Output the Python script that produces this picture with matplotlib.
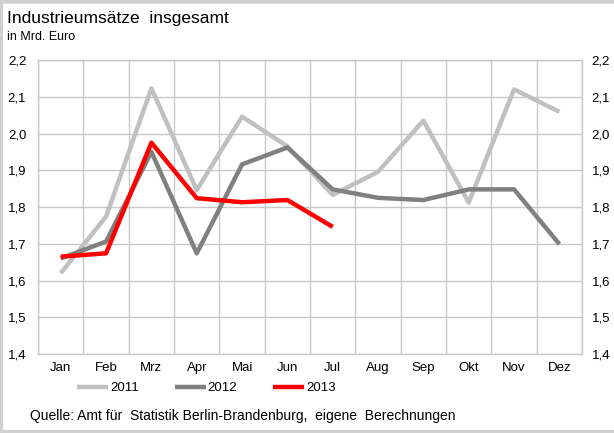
import matplotlib.pyplot as plt
from matplotlib.lines import Line2D
import numpy as np

plt.rcParams['font.family'] = ['Liberation Sans', 'DejaVu Sans']

months = ["Jan", "Feb", "Mrz", "Apr", "Mai", "Jun", "Jul", "Aug", "Sep", "Okt", "Nov", "Dez"]
sales_2011 = [1.62, 1.774, 2.123, 1.846, 2.046, 1.965, 1.833, 1.896, 2.035, 1.812, 2.12, 2.059]
sales_2012 = [1.66, 1.706, 1.95, 1.674, 1.916, 1.962, 1.848, 1.825, 1.819, 1.848, 1.848, 1.699]
sales_2013 = [1.665, 1.674, 1.975, 1.824, 1.813, 1.819, 1.746]
y_ticks = [1.4, 1.5, 1.6, 1.7, 1.8, 1.9, 2.0, 2.1, 2.2]
y_labels = [f"{v:.1f}".replace(".", ",") for v in y_ticks]

fig = plt.figure(figsize=(6.14, 4.33), dpi=100)
ax = fig.add_axes([0.062, 0.1824, 0.886, 0.679])

x = np.arange(len(months))
ax.plot(x, sales_2011, color="#c0c0c0", linewidth=3.2, label="2011", solid_capstyle="butt")
ax.plot(x[:len(sales_2012)], sales_2012, color="#808080", linewidth=3.2, label="2012", solid_capstyle="butt")
ax.plot(x[:len(sales_2013)], sales_2013, color="#ff0000", linewidth=3.2, label="2013", solid_capstyle="butt")

ax.set_xlim(-0.5, 11.5)
ax.set_ylim(1.4, 2.2)
ax.set_xticks(x)
ax.set_xticklabels(months, fontsize=9.5)
ax.set_xticks(np.arange(-0.5, 12, 1), minor=True)
ax.set_yticks(y_ticks)
ax.set_yticklabels(y_labels, fontsize=9.5)
ax.tick_params(axis="y", which="both", length=0, pad=8.5)
ax.tick_params(axis="x", which="both", length=0, pad=6)
ax.grid(True, axis="y", color="#c8c8c8", linewidth=1)
ax.grid(True, axis="x", which="minor", color="#c8c8c8", linewidth=1)
ax.set_axisbelow(True)
for s in ax.spines.values():
    s.set_color("#c8c8c8")
    s.set_linewidth(1)

# right hand labels
ax_r = ax.twinx()
ax_r.set_ylim(1.4, 2.2)
ax_r.set_yticks(y_ticks)
ax_r.set_yticklabels(y_labels, fontsize=9.5)
ax_r.tick_params(axis="y", length=0, pad=7)
for s in ax_r.spines.values():
    s.set_visible(False)

ax.legend(loc="center left", bbox_to_anchor=(0.072, -0.116), ncol=3, frameon=False,
          fontsize=9.5, handlelength=2.35, handletextpad=0.15, columnspacing=2.7,
          borderaxespad=0, borderpad=0)

fig.text(0.011, 0.958, "Industrieumsätze  insgesamt", fontsize=12.5, va="center")
fig.text(0.011, 0.914, "in Mrd. Euro", fontsize=9, va="center")
fig.text(0.049, 0.039, "Quelle: Amt für  Statistik Berlin-Brandenburg,  eigene  Berechnungen",
         fontsize=10, va="center")

# frame on top, left and bottom only
frame = "#d0d0d0"
fig.add_artist(Line2D([0, 1], [0.997, 0.997], transform=fig.transFigure, color=frame, linewidth=4))
fig.add_artist(Line2D([0.002, 0.002], [0, 1], transform=fig.transFigure, color=frame, linewidth=3))
fig.add_artist(Line2D([0, 1], [0.002, 0.002], transform=fig.transFigure, color=frame, linewidth=3))

fig.savefig("out.png", dpi=100)
